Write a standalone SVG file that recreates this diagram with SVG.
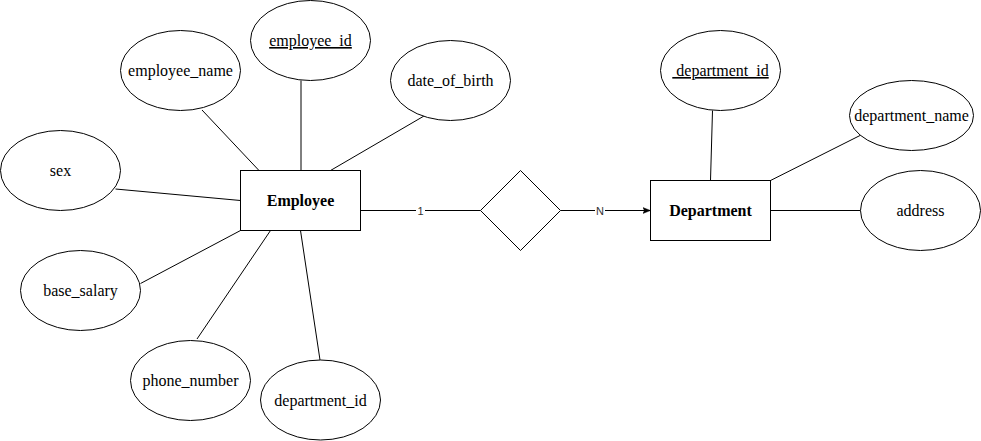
<svg xmlns="http://www.w3.org/2000/svg" width="981" height="441" viewBox="0 0 981 441">
  <defs>
    <style>
      .shape { fill: #ffffff; stroke: #000000; stroke-width: 1; }
      .edge { fill: none; stroke: #000000; stroke-width: 1; }
      .attr { font-size: 16px; fill: #000000; text-anchor: middle; }
      .entity { font-size: 16px; font-weight: bold; fill: #000000; text-anchor: middle; }
      .key { text-decoration: underline; }
      .card { font-size: 11px; fill: #333333; text-anchor: middle; }
      .cardbg { fill: #ffffff; stroke: none; }
    </style>
    <marker id="arrow" viewBox="0 0 10 10" refX="10" refY="5" markerWidth="8" markerHeight="8" markerUnits="userSpaceOnUse" orient="auto">
      <path d="M0,1 L10,5 L0,9 L2.5,5 Z" fill="#000000" stroke="#000000" stroke-width="0.5"/>
    </marker>
  </defs>

  <rect width="981" height="441" fill="#ffffff"/>

  <!-- connectors -->
  <g id="connectors">
    <line class="edge" x1="202" y1="110" x2="259" y2="170.5"/>
    <line class="edge" x1="301" y1="80.5" x2="301" y2="170.5"/>
    <line class="edge" x1="424" y1="116" x2="330.5" y2="170.5"/>
    <line class="edge" x1="115.5" y1="189" x2="240.5" y2="200.5"/>
    <line class="edge" x1="140.5" y1="283.5" x2="240.5" y2="230.5"/>
    <line class="edge" x1="197" y1="339" x2="270.5" y2="230.5"/>
    <line class="edge" x1="320" y1="360" x2="300.5" y2="230.5"/>
    <line class="edge" x1="712.5" y1="110.5" x2="710.5" y2="180.5"/>
    <line class="edge" x1="860" y1="135.5" x2="770.5" y2="180.5"/>
    <line class="edge" x1="770.5" y1="210.5" x2="860.5" y2="210.5"/>
    <line class="edge" x1="360.5" y1="210.5" x2="480.5" y2="210.5"/>
    <line class="edge" x1="560.5" y1="210.5" x2="650.5" y2="210.5" marker-end="url(#arrow)"/>
    <g font-family="'Liberation Sans', Arial, sans-serif">
      <rect class="cardbg" x="416" y="203" width="9" height="14"/>
      <text class="card" x="420.5" y="214.5">1</text>
      <rect class="cardbg" x="595" y="203" width="10" height="14"/>
      <text class="card" x="600" y="214.5">N</text>
    </g>
  </g>

  <g font-family="'Liberation Serif', 'Times New Roman', 'DejaVu Serif', serif">
    <!-- entities -->
    <g id="employee">
      <rect class="shape" x="240.5" y="170.5" width="120" height="60"/>
      <text class="entity" x="300.5" y="206">Employee</text>
    </g>
    <g id="department">
      <rect class="shape" x="650.5" y="180.5" width="120" height="60"/>
      <text class="entity" x="710.5" y="216">Department</text>
    </g>

    <!-- relationship -->
    <g id="relationship">
      <polygon class="shape" points="520.5,170.5 560.5,210.5 520.5,250.5 480.5,210.5"/>
    </g>

    <!-- employee attributes -->
    <g id="attr-employee-name">
      <ellipse class="shape" cx="180.5" cy="70.5" rx="60" ry="40"/>
      <text class="attr" x="180.5" y="76">employee_name</text>
    </g>
    <g id="attr-employee-id">
      <ellipse class="shape" cx="310.5" cy="40.5" rx="60" ry="40"/>
      <text class="attr key" x="310.5" y="46">employee_id</text>
    </g>
    <g id="attr-date-of-birth">
      <ellipse class="shape" cx="450.5" cy="80.5" rx="60" ry="40"/>
      <text class="attr" x="450.5" y="86">date_of_birth</text>
    </g>
    <g id="attr-sex">
      <ellipse class="shape" cx="60.5" cy="170.5" rx="60" ry="40"/>
      <text class="attr" x="60.5" y="176">sex</text>
    </g>
    <g id="attr-base-salary">
      <ellipse class="shape" cx="80.5" cy="290.5" rx="60" ry="40"/>
      <text class="attr" x="80.5" y="296">base_salary</text>
    </g>
    <g id="attr-phone-number">
      <ellipse class="shape" cx="190.5" cy="380.5" rx="60" ry="40"/>
      <text class="attr" x="190.5" y="386">phone_number</text>
    </g>
    <g id="attr-employee-department-id">
      <ellipse class="shape" cx="320.5" cy="400" rx="60" ry="40"/>
      <text class="attr" x="320.5" y="405.5">department_id</text>
    </g>

    <!-- department attributes -->
    <g id="attr-department-id">
      <ellipse class="shape" cx="720.5" cy="70.5" rx="60" ry="40"/>
      <text class="attr key" x="720.5" y="76" xml:space="preserve"> department_id</text>
    </g>
    <g id="attr-department-name">
      <ellipse class="shape" cx="911.5" cy="115.5" rx="62" ry="35"/>
      <text class="attr" x="911.5" y="121">department_name</text>
    </g>
    <g id="attr-address">
      <ellipse class="shape" cx="920.5" cy="210.5" rx="60" ry="40"/>
      <text class="attr" x="920.5" y="216">address</text>
    </g>
  </g>
</svg>
